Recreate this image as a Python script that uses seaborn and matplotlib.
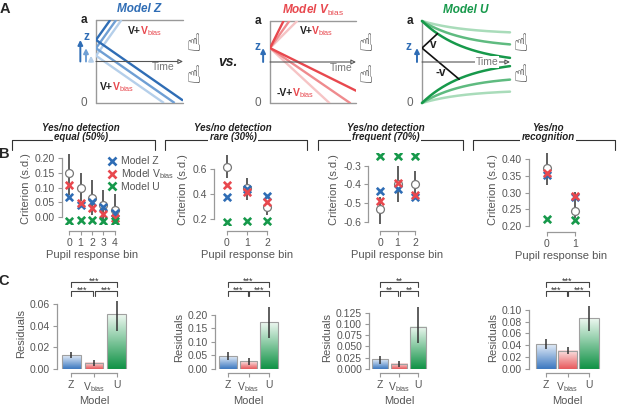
import numpy as np
import matplotlib
matplotlib.use("Agg")
import matplotlib.pyplot as plt
import seaborn as sns
from matplotlib.lines import Line2D
from matplotlib.colors import LinearSegmentedColormap
from matplotlib import transforms

# ---------------- data ----------------
# panel A: schematic model parameters
z_start_modelz = [0.57, 0.66, 0.76]          # light -> dark
arrow_t_modelz = [-0.057, -0.115, -0.18]
drift_up_modelz = 1.47
drift_down_modelz = -0.73
z_start_vbias = 0.67
drift_up_vbias = [1.05, 1.47, 2.1]
drift_down_vbias = [-0.97, -0.72, -0.52]
z_start_u = 0.67
collapse_u = [0.16, 0.33, 0.52]
tau_u = 0.5
drift_u = [1.0, -0.9]

# panel B: criterion per pupil response bin
b_titles = [("Yes/no detection", "equal (50%)"), ("Yes/no detection", "rare (30%)"),
            ("Yes/no detection", "frequent (70%)"), ("Yes/no", "recognition")]
b1_bins = [0, 1, 2, 3, 4]
b1_data = [0.149, 0.100, 0.064, 0.042, 0.025]
b1_lo = [0.076, 0.053, 0.008, -0.009, -0.026]
b1_hi = [0.214, 0.149, 0.127, 0.093, 0.079]
b1_z = [0.067, 0.042, 0.050, 0.033, 0.014]
b1_vb = [0.110, 0.048, 0.030, 0.010, -0.003]
b1_u = [-0.015, -0.009, -0.011, -0.012, -0.015]

b2_bins = [0, 1, 2]
b2_data = [0.616, 0.448, 0.293]
b2_lo = [0.528, 0.355, 0.235]
b2_hi = [0.728, 0.528, 0.336]
b2_z = [0.381, 0.440, 0.389]
b2_vb = [0.475, 0.421, 0.336]
b2_u = [0.176, 0.187, 0.187]

b3_bins = [0, 1, 2]
b3_data = [-0.532, -0.400, -0.396]
b3_lo = [-0.612, -0.493, -0.466]
b3_hi = [-0.466, -0.302, -0.329]
b3_z = [-0.436, -0.425, -0.468]
b3_vb = [-0.489, -0.395, -0.458]
b3_u = [-0.246, -0.246, -0.246]

b4_bins = [0, 1]
b4_data = [0.373, 0.245]
b4_lo = [0.323, 0.223]
b4_hi = [0.418, 0.303]
b4_z = [0.353, 0.288]
b4_vb = [0.358, 0.291]
b4_u = [0.220, 0.218]

# panel C: residuals per model
c_models = ["Z", r"V$_{\mathrm{bias}}$", "U"]
c1_mean = [0.0127, 0.0056, 0.0504]
c1_lo = [0.0096, 0.0028, 0.035]
c1_hi = [0.0158, 0.0080, 0.063]
c2_mean = [0.048, 0.027, 0.173]
c2_lo = [0.032, 0.015, 0.113]
c2_hi = [0.063, 0.038, 0.231]
c3_mean = [0.0208, 0.0112, 0.0938]
c3_lo = [0.0104, 0.0045, 0.058]
c3_hi = [0.028, 0.0179, 0.138]
c4_mean = [0.0415, 0.0307, 0.0858]
c4_lo = [0.033, 0.0244, 0.064]
c4_hi = [0.0506, 0.0375, 0.106]
c1_stars = ["***", "***", "***"]
c2_stars = ["***", "***", "***"]
c3_stars = ["**", "**", "**"]
c4_stars = ["***", "***", "***"]

# ---------------- style ----------------
BLUE, RED, GREEN = "#2f6db5", "#e8484e", "#17994b"
BLUES = ["#b5cfea", "#6f9fd4", "#2f6db5"]
REDS = ["#f6c4c5", "#ef8b8e", "#e8484e"]
GREENS = ["#a9dcba", "#5fbb80", "#17994b"]
BAR_TOP = ["#e4edf8", "#fbe4e4", "#eef8f1"]
BAR_BOT = ["#3a77c0", "#e8585b", "#0f9245"]
GREY = "#999999"
TXT = "#555555"

sns.set_theme(style="ticks")
plt.rcParams["font.family"] = ["Liberation Sans", "DejaVu Sans"]
plt.rcParams["mathtext.fontset"] = "custom"
plt.rcParams["mathtext.rm"] = "Liberation Sans"
plt.rcParams["mathtext.it"] = "Liberation Sans:italic"
plt.rcParams["mathtext.bf"] = "Liberation Sans:bold"
plt.rcParams["mathtext.bfit"] = "Liberation Sans:italic:bold"
plt.rcParams["mathtext.sf"] = "Liberation Sans"

W, H = 617, 411
fig = plt.figure(figsize=(W / 100, H / 100), dpi=100)
renderer = fig.canvas.get_renderer()


def rect(l, t, r, b):
    return [l / W, 1 - b / H, (r - l) / W, (b - t) / H]


def fy(y):
    return 1 - y / H


# ---------------- panel A ----------------
def frame(ax, lines_top_bottom=True):
    ax.set_xlim(0, 1)
    ax.set_ylim(0, 1)
    ax.axis("off")
    ax.plot([0, 0], [0, 1], color=GREY, lw=1, clip_on=False)
    if lines_top_bottom:
        ax.plot([0, 1], [1, 1], color=GREY, lw=1, clip_on=False)
        ax.plot([0, 1], [0, 0], color=GREY, lw=1, clip_on=False)
    ax.text(-0.14, 1, "a", fontsize=8.5, fontweight="bold", ha="center", va="center", color="#222")
    ax.text(-0.14, 0, "0", fontsize=8.5, ha="center", va="center", color="#666")


def time_axis(ax, tx, ty, boxed=False):
    ax.annotate("", xy=(1.0, 0.5), xytext=(0, 0.5), annotation_clip=False,
                arrowprops=dict(arrowstyle="-|>", color="#555", lw=0.8, fc="white",
                                mutation_scale=7, shrinkA=0, shrinkB=0))
    kw = dict(bbox=dict(fc="white", ec="none", pad=0.5)) if boxed else {}
    ax.text(tx, ty, "Time", fontsize=7.5, color="#777", ha="center", va="center", **kw)


def z_arrow(ax, t, z, col):
    ax.annotate("", xy=(t, z), xytext=(t, 0.5), annotation_clip=False,
                arrowprops=dict(arrowstyle="-|>", color=col, lw=1.4, mutation_scale=7,
                                shrinkA=0, shrinkB=0))


def two_tone(ax, x, y, prefix, size=7.5):
    t1 = ax.text(x, y, prefix, fontsize=size, fontweight="bold", color="#222", va="baseline")
    bb = t1.get_window_extent(renderer)
    x2 = ax.transData.inverted().transform((bb.x1 - 1.5, 0))[0]
    ax.text(x2, y, r"$\mathbf{V}_{\mathrm{bias}}$", fontsize=size, color=RED, va="baseline")


def hands(xc, y1, y2):
    for y in (y1, y2):
        fig.text(xc / W, fy(y), "\u261d", fontsize=17, family="DejaVu Sans",
                 ha="center", va="center", color="#333")


# Model Z
axZ = fig.add_axes(rect(96, 20, 183, 103))
frame(axZ)
time_axis(axZ, 0.77, 0.43)
for z, t_arr, col in zip(z_start_modelz, arrow_t_modelz, BLUES):
    t_up = min(1, (1 - z) / drift_up_modelz)
    t_dn = min(1, z / -drift_down_modelz)
    axZ.plot([0, t_up], [z, z + drift_up_modelz * t_up], color=col, lw=1.7, solid_capstyle="butt")
    axZ.plot([0, t_dn], [z, z + drift_down_modelz * t_dn], color=col, lw=1.7, solid_capstyle="butt")
    z_arrow(axZ, t_arr, z, col)
axZ.text(-0.11, 0.80, "z", fontsize=8.5, fontweight="bold", color=BLUE, ha="center", va="center")
two_tone(axZ, 0.37, 0.83, "V+")
two_tone(axZ, 0.05, 0.16, "V+")
axZ.set_title("Model Z", fontsize=8.5, fontweight="bold", style="italic", color=BLUE, pad=6)
hands(194, 44, 76)

fig.text(228 / W, fy(62), "vs.", fontsize=10, fontweight="bold", style="italic",
         ha="center", va="center", color="#222")

# Model V_bias
axV = fig.add_axes(rect(270, 21, 356, 103))
frame(axV)
time_axis(axV, 0.83, 0.43)
for up, dn, col in zip(drift_up_vbias, drift_down_vbias, REDS):
    t_up = min(1, (1 - z_start_vbias) / up)
    t_dn = min(1, z_start_vbias / -dn)
    axV.plot([0, t_up], [z_start_vbias, z_start_vbias + up * t_up], color=col, lw=1.7)
    axV.plot([0, t_dn], [z_start_vbias, z_start_vbias + dn * t_dn], color=col, lw=1.7)
z_arrow(axV, -0.08, z_start_vbias, BLUE)
axV.text(-0.15, 0.68, "z", fontsize=8.5, fontweight="bold", color=BLUE, ha="center", va="center")
two_tone(axV, 0.35, 0.84, "V+")
two_tone(axV, 0.08, 0.08, "-V+")
axV.set_title(r"$\mathbfit{Model\ V}_{\mathrm{bias}}$", fontsize=8.5, color=RED, pad=5)
hands(366, 44, 76)

# Model U
axU = fig.add_axes(rect(422, 21, 510, 103))
frame(axU, lines_top_bottom=False)
t = np.linspace(0, 1, 200)
for c, col in zip(collapse_u, GREENS):
    shrink = c * (1 - np.exp(-t / tau_u))
    axU.plot(t, 1 - shrink, color=col, lw=1.8, clip_on=False)
    axU.plot(t, shrink, color=col, lw=1.8, clip_on=False)
dark_shrink = collapse_u[-1] * (1 - np.exp(-t / tau_u))
path_up = z_start_u + drift_u[0] * t
path_dn = z_start_u + drift_u[1] * t
t_hit_up = t[np.argmax(path_up >= 1 - dark_shrink)]
t_hit_dn = t[np.argmax(path_dn <= dark_shrink)]
axU.plot([0, t_hit_up], [z_start_u, z_start_u + drift_u[0] * t_hit_up], color="#111", lw=1.2)
axU.plot([0, t_hit_dn], [z_start_u, z_start_u + drift_u[1] * t_hit_dn], color="#111", lw=1.2)
time_axis(axU, 0.74, 0.5, boxed=True)
z_arrow(axU, -0.057, z_start_u, BLUE)
axU.text(-0.15, 0.68, "z", fontsize=8.5, fontweight="bold", color=BLUE, ha="center", va="center")
axU.text(0.13, 0.71, "v", fontsize=8.5, fontweight="bold", color="#222", ha="center", va="center")
axU.text(0.21, 0.36, "-v", fontsize=8.5, fontweight="bold", color="#222", ha="center", va="center")
axU.set_title("Model U", fontsize=8.5, fontweight="bold", style="italic", color=GREEN, pad=6)
hands(521, 44, 75)


# ---------------- panel B ----------------
def style_axes(ax, off_px):
    sns.despine(ax=ax, trim=True, offset={"left": 0, "bottom": off_px * 0.72})
    for s in ("left", "bottom"):
        ax.spines[s].set_color(GREY)
        ax.spines[s].set_linewidth(0.9)
    ax.tick_params(labelsize=7.5, color=GREY, labelcolor=TXT, length=3, width=0.8, pad=2)


b_layout = [
    dict(r=(62, 153.6, 122, 224.4), xlim=(-0.61, 4.61), ylim=(-0.025, 0.215), off=6.6,
         yt=[0, 0.05, 0.1, 0.15, 0.2], fmt="%.2f"),
    dict(r=(214, 154.5, 280, 225.2), xlim=(-0.65, 2.65), ylim=(0.15, 0.72), off=5.8,
         yt=[0.2, 0.4, 0.6], fmt="%.1f"),
    dict(r=(368, 152.6, 427, 226.4), xlim=(-0.69, 2.69), ylim=(-0.625, -0.23), off=4.6,
         yt=[-0.6, -0.5, -0.4, -0.3], fmt="%.1f"),
    dict(r=(529, 151, 593, 227.7), xlim=(-0.64, 1.64), ylim=(0.195, 0.425), off=4.3,
         yt=[0.2, 0.25, 0.3, 0.35, 0.4], fmt="%.2f"),
]
b_sets = [
    (b1_bins, b1_data, b1_lo, b1_hi, b1_z, b1_vb, b1_u),
    (b2_bins, b2_data, b2_lo, b2_hi, b2_z, b2_vb, b2_u),
    (b3_bins, b3_data, b3_lo, b3_hi, b3_z, b3_vb, b3_u),
    (b4_bins, b4_data, b4_lo, b4_hi, b4_z, b4_vb, b4_u),
]
b_axes = []
for lay, (bins, dat, lo, hi, mz, mv, mu) in zip(b_layout, b_sets):
    ax = fig.add_axes(rect(*lay["r"]))
    ax.vlines(bins, lo, hi, color="#333", lw=1.1, zorder=2)
    sns.scatterplot(x=bins, y=dat, ax=ax, marker="o", s=32, color="white",
                    edgecolor="#777", linewidth=0.9, zorder=3)
    for vals, col in ((mz, BLUE), (mv, RED), (mu, GREEN)):
        sns.scatterplot(x=bins, y=vals, ax=ax, marker="x", s=28, color=col,
                        linewidth=1.9, zorder=4)
    ax.set_xlim(*lay["xlim"])
    ax.set_ylim(*lay["ylim"])
    ax.set_xticks(bins)
    ax.set_yticks(lay["yt"])
    ax.yaxis.set_major_formatter(matplotlib.ticker.FormatStrFormatter(lay["fmt"]))
    ax.set_xlabel("Pupil response bin", fontsize=8, color=TXT, labelpad=1.5)
    ax.set_ylabel("Criterion (s.d.)", fontsize=8, color=TXT, labelpad=3)
    style_axes(ax, lay["off"])
    b_axes.append(ax)

leg_handles = [Line2D([], [], marker="x", ls="", color=c, markersize=5.5, mew=1.9)
               for c in (BLUE, RED, GREEN)]
b_axes[0].legend(leg_handles, ["Model Z", r"Model V$_{\mathrm{bias}}$", "Model U"],
                 loc="upper left", bbox_to_anchor=(103 / W, fy(151)),
                 bbox_transform=fig.transFigure, frameon=False, fontsize=7.5,
                 handlelength=0.8, handletextpad=0.4, labelspacing=0.1, borderpad=0,
                 labelcolor=TXT)

# bracket headers
b_spans = [(12, 155), (165, 307), (318, 463), (473, 615)]
b_title_x = [81, 233, 386, 548]
for (x0, x1), tx, (l1, l2) in zip(b_spans, b_title_x, b_titles):
    fig.add_artist(Line2D([x0 / W, x0 / W, x1 / W, x1 / W], [fy(150), fy(140), fy(140), fy(150)],
                          transform=fig.transFigure, color="#333", lw=0.8))
    fig.text(tx / W, fy(137.5), l2, ha="center", va="center", fontsize=7, fontweight="bold",
             style="italic", color="#222", bbox=dict(fc="white", ec="none", pad=1))
    fig.text(tx / W, fy(128), l1, ha="center", va="center", fontsize=7, fontweight="bold",
             style="italic", color="#222")

# ---------------- panel C ----------------
c_layout = [
    dict(r=(57, 297.5, 131, 368.7), xlim=(-0.62, 2.62), ylim=(0, 0.066),
         yt=[0, 0.02, 0.04, 0.06], fmt="%.2f", w=0.83),
    dict(r=(215, 305.6, 282, 368.7), xlim=(-0.63, 2.63), ylim=(0, 0.235),
         yt=[0, 0.05, 0.1, 0.15, 0.2], fmt="%.2f", w=0.85),
    dict(r=(369, 306, 429, 368.7), xlim=(-0.58, 2.58), ylim=(0, 0.14),
         yt=[0, 0.025, 0.05, 0.075, 0.1, 0.125], fmt="%.3f", w=0.85),
    dict(r=(529, 305.3, 606, 368.7), xlim=(-0.79, 2.79), ylim=(0, 0.108),
         yt=[0, 0.02, 0.04, 0.06, 0.08, 0.1], fmt="%.2f", w=0.92),
]
c_sets = [(c1_mean, c1_lo, c1_hi, c1_stars), (c2_mean, c2_lo, c2_hi, c2_stars),
          (c3_mean, c3_lo, c3_hi, c3_stars), (c4_mean, c4_lo, c4_hi, c4_stars)]
grad = np.linspace(0, 1, 128).reshape(-1, 1)
for lay, (mean, lo, hi, stars) in zip(c_layout, c_sets):
    ax = fig.add_axes(rect(*lay["r"]))
    sns.barplot(x=c_models, y=mean, hue=c_models, palette=BAR_BOT, legend=False,
                width=lay["w"], errorbar=None, ax=ax, order=c_models)
    for p, top, bot in zip(ax.patches, BAR_TOP, BAR_BOT):
        x0, w, h = p.get_x(), p.get_width(), p.get_height()
        cmap = LinearSegmentedColormap.from_list("g", [top, bot])
        ax.imshow(grad, extent=(x0, x0 + w, 0, h), aspect="auto", origin="upper",
                  cmap=cmap, zorder=1)
        p.set_facecolor("none")
        p.set_edgecolor("#a0a0a0")
        p.set_linewidth(0.8)
        p.set_zorder(2)
    ax.vlines(range(3), lo, hi, color="#333", lw=1.1, zorder=3)
    ax.set_xlim(*lay["xlim"])
    ax.set_ylim(*lay["ylim"])
    ax.set_xticks(range(3))
    ax.set_xticklabels(c_models)
    ax.set_yticks(lay["yt"])
    ax.yaxis.set_major_formatter(matplotlib.ticker.FormatStrFormatter(lay["fmt"]))
    ax.set_xlabel("Model", fontsize=8, color=TXT, labelpad=1.5)
    ax.set_ylabel("Residuals", fontsize=8, color=TXT, labelpad=3)
    style_axes(ax, 4.3)
    # significance brackets
    tr = transforms.blended_transform_factory(ax.transData, fig.transFigure)
    spans = [(0, 2, 282, 287), (0, 0.96, 291, 295.5), (1.04, 2, 291, 295.5)]
    for (a, b, ytop, yleg), s in zip(spans, stars):
        ax.add_artist(Line2D([a, a, b, b], [fy(yleg), fy(ytop), fy(ytop), fy(yleg)],
                             transform=tr, color="#444", lw=0.8, clip_on=False))
        ax.text((a + b) / 2, fy(ytop + 1.5), s, transform=tr, ha="center", va="baseline",
                fontsize=6.5, color="#333", clip_on=False)

# panel letters
for letter, (x, y) in zip("ABC", [(5, 9), (4, 154), (4, 281)]):
    fig.text(x / W, fy(y), letter, fontsize=10.5, fontweight="bold", ha="center", va="center")

fig.savefig("out.png", dpi=100)
